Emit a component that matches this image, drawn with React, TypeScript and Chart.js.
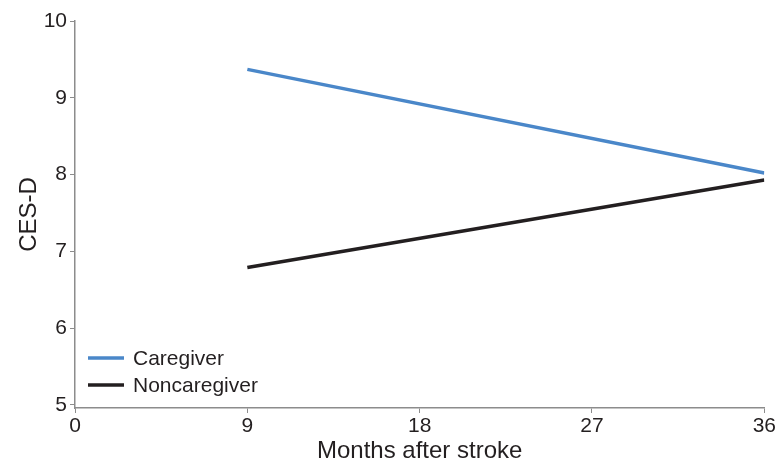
import React, { useEffect, useRef } from "react";
import { Chart, registerables } from "chart.js";

Chart.register(...registerables);

const months = [9, 36];
const caregiver = [9.37, 8.02];
const noncaregiver = [6.79, 7.93];
const xTicks = [0, 9, 18, 27, 36];
const yTicks = [5, 6, 7, 8, 9, 10];
const seriesNames = ["Caregiver", "Noncaregiver"];
const seriesColors = ["#4a87c9", "#231f20"];

const legendPlugin = {
  id: "innerLegend",
  afterDraw(chart: any) {
    const ctx = chart.ctx;
    const area = chart.chartArea;
    ctx.save();
    ctx.font = "21px 'Liberation Sans', Arial, sans-serif";
    ctx.textBaseline = "middle";
    ctx.lineWidth = 3.5;
    seriesNames.forEach((name, i) => {
      const y = area.bottom - 50 + i * 27;
      const x0 = area.left + 13;
      ctx.strokeStyle = seriesColors[i];
      ctx.beginPath();
      ctx.moveTo(x0, y);
      ctx.lineTo(x0 + 36, y);
      ctx.stroke();
      ctx.fillStyle = "#231f20";
      ctx.fillText(name, x0 + 45, y + 1);
    });
    ctx.restore();
  },
};

export default function App() {
  const ref = useRef<HTMLCanvasElement>(null);
  useEffect(() => {
    document.body.style.margin = "0";
    const font = "'Liberation Sans', Arial, sans-serif";
    const chart = new Chart(ref.current!, {
      type: "line",
      data: {
        datasets: [
          {
            label: seriesNames[0],
            data: months.map((m, i) => ({ x: m, y: caregiver[i] })),
            borderColor: seriesColors[0],
            borderWidth: 3.5,
            pointRadius: 0,
            fill: false,
          },
          {
            label: seriesNames[1],
            data: months.map((m, i) => ({ x: m, y: noncaregiver[i] })),
            borderColor: seriesColors[1],
            borderWidth: 3.5,
            pointRadius: 0,
            fill: false,
          },
        ],
      },
      options: {
        animation: false,
        responsive: false,
        layout: { padding: { top: 21, right: 11, left: 0, bottom: 0 } },
        plugins: { legend: { display: false }, tooltip: { enabled: false } },
        scales: {
          x: {
            type: "linear",
            min: 0,
            max: 36,
            afterBuildTicks: (s: any) => {
              s.ticks = xTicks.map((v) => ({ value: v }));
            },
            afterFit: (s: any) => {
              s.height = 54;
            },
            grid: { drawOnChartArea: false, drawTicks: true, tickLength: 5, color: "#8c8c8c" },
            border: { color: "#8c8c8c", width: 1.5 },
            ticks: { color: "#231f20", font: { size: 21, family: font }, padding: 1, maxRotation: 0 },
            title: {
              display: true,
              text: "Months after stroke",
              color: "#231f20",
              font: { size: 24, family: font },
              padding: { top: 0, bottom: -4 },
            },
          },
          y: {
            type: "linear",
            min: 4.96,
            max: 10,
            afterBuildTicks: (s: any) => {
              s.ticks = yTicks.map((v) => ({ value: v }));
            },
            afterFit: (s: any) => {
              s.width = 75;
            },
            grid: { drawOnChartArea: false, drawTicks: true, tickLength: 5, color: "#8c8c8c" },
            border: { color: "#8c8c8c", width: 1.5 },
            ticks: { color: "#231f20", font: { size: 21, family: font }, padding: 3 },
            title: {
              display: true,
              text: "CES-D",
              color: "#231f20",
              font: { size: 24, family: font },
              padding: { top: 15, bottom: 0 },
            },
          },
        },
      },
      plugins: [legendPlugin],
    });
    return () => chart.destroy();
  }, []);
  return (
    <div style={{ position: "absolute", left: 0, top: 0, width: 777, height: 462 }}>
      <canvas ref={ref} width={777} height={462} />
    </div>
  );
}
